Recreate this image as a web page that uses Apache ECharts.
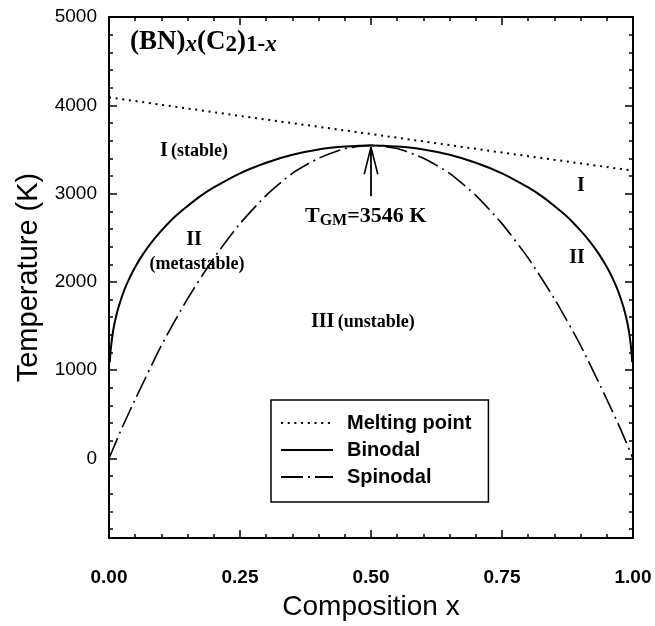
<!DOCTYPE html>
<html><head><meta charset="utf-8">
<script src="https://cdn.jsdelivr.net/npm/echarts@6/dist/echarts.min.js"></script>
<style>html,body{margin:0;padding:0;background:#fff}#c{width:655px;height:626px}</style>
</head><body><div id="c"></div>
<script>
// ---- data ----
const binodalX = [0.0015,0.003,0.005,0.0075,0.01,0.015,0.02,0.03,0.04,0.05,0.065,0.08,0.1,0.125,0.15,0.175,0.2,0.25,0.3,0.35,0.4,0.45,0.5,
                  0.55,0.6,0.65,0.7,0.75,0.8,0.825,0.85,0.875,0.9,0.92,0.935,0.95,0.96,0.97,0.98,0.985,0.99,0.9925,0.995,0.997,0.9985];
const binodalT = [1090,1215,1325,1430,1515,1645,1750,1920,2055,2170,2315,2440,2580,2735,2860,2975,3070,3230,3350,3440,3500,3533,3546,
                  3533,3500,3440,3350,3230,3070,2975,2860,2735,2580,2440,2315,2170,2055,1920,1750,1645,1515,1430,1325,1215,1090];
const spinodalX = [0,0.025,0.05,0.1,0.15,0.2,0.25,0.3,0.35,0.4,0.45,0.5,0.55,0.6,0.65,0.7,0.75,0.8,0.85,0.9,0.95,0.975,1];
const spinodalT = [0,350,670,1280,1810,2270,2660,2980,3230,3400,3510,3546,3510,3400,3230,2980,2660,2270,1810,1280,670,350,0];
const meltX = [0, 0.25, 0.5, 0.75, 1];
const meltT = [4090, 3880, 3675, 3465, 3260];
const arrowShaftX = [0.5, 0.5];
const arrowShaftT = [2970, 3525];
const arrowHeadX = [0.487, 0.5, 0.513];
const arrowHeadT = [3220, 3525, 3220];
const seriesNames = ['Melting point', 'Binodal', 'Spinodal'];
const xTickValues = [0, 0.25, 0.5, 0.75, 1];
const yTickValues = [0, 1000, 2000, 3000, 4000, 5000];
const yMinorValues = [-800,-600,-400,-200,200,400,600,800,1200,1400,1600,1800,2200,2400,2600,2800,3200,3400,3600,3800,4200,4400,4600,4800];

const zip = (xs, ys) => xs.map((x, i) => [x, ys[i]]);
const SANS = 'Liberation Sans, Arial, sans-serif';
const SERIF = 'Liberation Serif, Times New Roman, serif';

const chart = echarts.init(document.getElementById('c'), null, {renderer: 'canvas'});

const Y_MIN = -900, Y_MAX = 5000;
const axisLine = {show: true, onZero: false, lineStyle: {color: '#000', width: 2}};
const noLabel = {show: false};

function yAx(position, major, withLabel, extra) {
  return Object.assign({
    type: 'value', position: position, min: Y_MIN, max: Y_MAX,
    axisLine: major ? axisLine : {show: false, onZero: false},
    axisTick: {show: true, inside: true, length: major ? 8 : 4,
               customValues: major ? yTickValues : yMinorValues,
               lineStyle: {color: '#000', width: 1.5}},
    axisLabel: withLabel ? {show: true, customValues: yTickValues, color: '#000', fontSize: 19,
                            fontFamily: SANS, margin: 12, formatter: v => String(v)} : noLabel,
    splitLine: {show: false}
  }, extra || {});
}
function xAx(position, withLabel, extra) {
  return Object.assign({
    type: 'value', position: position, min: 0, max: 1, interval: 0.25,
    axisLine: axisLine,
    axisTick: {show: true, inside: true, length: 8, customValues: xTickValues, lineStyle: {color: '#000', width: 1.5}},
    minorTick: {show: true, splitNumber: 5, length: 4, lineStyle: {color: '#000', width: 1.5}},
    axisLabel: withLabel ? {show: true, color: '#000', fontSize: 19, fontWeight: 'bold', fontFamily: SANS,
                            margin: 30, formatter: v => v.toFixed(2)} : noLabel,
    splitLine: {show: false}
  }, extra || {});
}

const option = {
  backgroundColor: '#fff',
  animation: false,
  color: ['#000', '#000', '#000', '#000', '#000'],
  grid: {left: 109, right: 22, top: 17, bottom: 86, containLabel: false},
  xAxis: [
    xAx('bottom', true, {name: 'Composition x', nameLocation: 'middle', nameGap: 55,
        nameTextStyle: {color: '#000', fontSize: 28, fontFamily: SANS}}),
    xAx('top', false)
  ],
  yAxis: [
    yAx('left', true, true, {name: 'Temperature (K)', nameLocation: 'middle', nameGap: 64,
        nameTextStyle: {color: '#000', fontSize: 29, fontFamily: SANS}}),
    yAx('left', false, false),
    yAx('right', true, false),
    yAx('right', false, false)
  ],
  legend: {
    show: true, orient: 'vertical', left: 271, top: 400,
    data: seriesNames,
    borderColor: '#000', borderWidth: 1.5, borderRadius: 0,
    padding: [13, 17, 15, 9],
    itemWidth: 52, itemHeight: 14, itemGap: 7,
    itemStyle: {opacity: 0},
    textStyle: {color: '#000', fontSize: 20, fontWeight: 'bold', fontFamily: SANS, padding: [0, 0, 0, 9]},
    selectedMode: false
  },
  series: [
    {name: seriesNames[0], type: 'line', data: zip(meltX, meltT), symbol: 'none', xAxisIndex: 0, yAxisIndex: 0,
     itemStyle: {color: '#000'}, lineStyle: {color: '#000', width: 2, type: [2, 4.7]}, z: 3},
    {name: seriesNames[1], type: 'line', data: zip(binodalX, binodalT), symbol: 'none', smooth: 0.2, xAxisIndex: 0, yAxisIndex: 0,
     itemStyle: {color: '#000'}, lineStyle: {color: '#000', width: 2, type: 'solid'}, z: 3},
    {name: seriesNames[2], type: 'line', data: zip(spinodalX, spinodalT), symbol: 'none', smooth: 0.2, xAxisIndex: 0, yAxisIndex: 0,
     itemStyle: {color: '#000'}, lineStyle: {color: '#000', width: 1.6, type: [22, 5, 2, 5]}, z: 3},
    {name: 'arrow', type: 'line', data: zip(arrowShaftX, arrowShaftT), symbol: 'none', xAxisIndex: 0, yAxisIndex: 0,
     lineStyle: {color: '#000', width: 1.8}, z: 4},
    {name: 'arrowhead', type: 'line', data: zip(arrowHeadX, arrowHeadT), symbol: 'none', xAxisIndex: 0, yAxisIndex: 0,
     lineStyle: {color: '#000', width: 1.6}, z: 4}
  ],
  graphic: [
    {type: 'text', left: 130, top: 29, z: 10, style: {
      text: '{a|(BN)}{si|x}{a|(C}{s|2}{a|)}{s|1-}{si|x}',
      rich: {
        a: {fontFamily: SERIF, fontWeight: 'bold', fontSize: 27, lineHeight: 28, fill: '#000'},
        s: {fontFamily: SERIF, fontWeight: 'bold', fontSize: 23, lineHeight: 8, verticalAlign: 'bottom', fill: '#000'},
        si: {fontFamily: SERIF, fontWeight: 'bold', fontStyle: 'italic', fontSize: 23, lineHeight: 8, verticalAlign: 'bottom', fill: '#000'}
      }}},
    {type: 'text', x: 160, y: 151, z: 10, style: {text: '{a|I} {b|(stable)}', verticalAlign: 'middle',
      rich: {a: {fontFamily: SERIF, fontWeight: 'bold', fontSize: 20, fill: '#000'},
             b: {fontFamily: SERIF, fontWeight: 'bold', fontSize: 18, fill: '#000'}}}},
    {type: 'text', x: 194, y: 240, z: 10, style: {text: 'II', align: 'center', verticalAlign: 'middle',
      font: 'bold 20px ' + SERIF, fill: '#000'}},
    {type: 'text', x: 197, y: 264, z: 10, style: {text: '(metastable)', align: 'center', verticalAlign: 'middle',
      font: 'bold 18px ' + SERIF, fill: '#000'}},
    {type: 'text', x: 311, y: 322, z: 10, style: {text: '{a|III} {b|(unstable)}', verticalAlign: 'middle',
      rich: {a: {fontFamily: SERIF, fontWeight: 'bold', fontSize: 20, fill: '#000'},
             b: {fontFamily: SERIF, fontWeight: 'bold', fontSize: 18, fill: '#000'}}}},
    {type: 'text', x: 581, y: 186, z: 10, style: {text: 'I', align: 'center', verticalAlign: 'middle',
      font: 'bold 20px ' + SERIF, fill: '#000'}},
    {type: 'text', x: 577, y: 258, z: 10, style: {text: 'II', align: 'center', verticalAlign: 'middle',
      font: 'bold 20px ' + SERIF, fill: '#000'}},
    {type: 'text', left: 305, top: 205, z: 10, style: {
      text: '{a|T}{s|GM}{a|=3546 K}',
      rich: {
        a: {fontFamily: SERIF, fontWeight: 'bold', fontSize: 22, lineHeight: 26, fill: '#000'},
        s: {fontFamily: SERIF, fontWeight: 'bold', fontSize: 16, lineHeight: 6, verticalAlign: 'bottom', fill: '#000'}
      }}}
  ]
};
chart.setOption(option);
</script>
</body></html>
